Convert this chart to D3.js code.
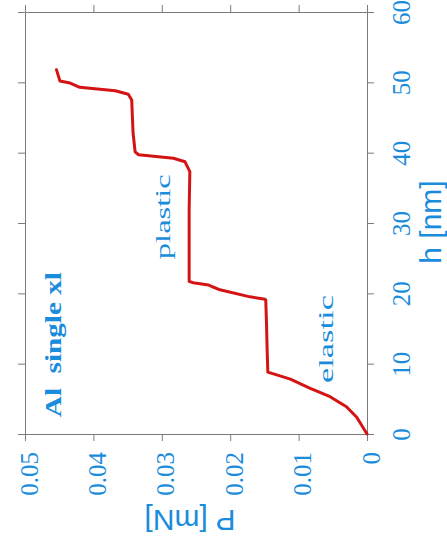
<!DOCTYPE html>
<html>
<head>
<meta charset="utf-8">
<script src="https://cdn.jsdelivr.net/npm/d3@7"></script>
<style>
body { margin: 0; background: white; }
.serif { font-family: 'Liberation Serif', Tinos, 'Times New Roman', Times, serif; }
.sans { font-family: 'Liberation Sans', Arimo, Arial, Helvetica, sans-serif; }
</style>
</head>
<body>
<div id="chart"></div>
<script>
// load-displacement curve, drawn rotated (h runs up the right side, P runs leftward along the bottom)
let depth = [0, 2.37, 3.88, 5.3, 6.5, 7.8, 8.8, 12, 16, 19.05, 19.15, 19.5, 20.5, 20.9, 21.2, 21.5, 21.7, 26, 32, 37.3, 38.7, 39.2, 39.7, 40.1, 42.8, 47.5, 48.3, 48.8, 49.3, 49.9, 50.2, 51.8]
let load = [0, 0.0015, 0.0030, 0.0054, 0.0083, 0.0112, 0.0145, 0.0146, 0.0147, 0.0148, 0.0149, 0.0171, 0.0215, 0.0225, 0.0232, 0.0254, 0.0260, 0.0260, 0.0260, 0.0259, 0.0266, 0.0283, 0.0334, 0.0339, 0.0342, 0.0344, 0.0349, 0.0368, 0.0420, 0.0434, 0.0449, 0.0454]

let hTicks = [0, 10, 20, 30, 40, 50, 60]
let hTickLabels = ['0', '10', '20', '30', '40', '50', '60']
let pTicks = [0, 0.01, 0.02, 0.03, 0.04, 0.05]
let pTickLabels = ['0', '0.01', '0.02', '0.03', '0.04', '0.05']

let notes = [
    { text: 'plastic', h: 30.9, p: 0.0288 },
    { text: 'elastic', h: 13.5, p: 0.0050 },
    { text: 'Al  single xl', h: 12.7, p: 0.0447 }
]

let width = 447
let height = 551
let blue = '#1a8cdc'
let axisGray = '#7a7a7a'

let svg = d3.select('#chart').append('svg')
    .attr('width', width)
    .attr('height', height)

let y = d3.scaleLinear()
    .domain([0, 60])
    .range([434, 12])
let x = d3.scaleLinear()
    .domain([0, 0.05])
    .range([367, 25])

function styleAxis(g) {
    g.attr('font-family', null)
    g.selectAll('path.domain').attr('stroke', axisGray)
    g.selectAll('.tick line').attr('stroke', axisGray)
}

// right: h ticks with labels
let right = svg.append('g')
    .attr('transform', 'translate(367,0)')
    .call(d3.axisRight(y)
        .tickValues(hTicks)
        .tickSize(7)
        .tickSizeOuter(0)
        .tickFormat((d, i) => hTickLabels[i])
    )
right.call(styleAxis)
right.selectAll('text')
    .attr('class', 'serif')
    .attr('x', 0)
    .attr('dy', 0)
    .attr('text-anchor', 'middle')
    .attr('transform', 'translate(43,0) rotate(-90)')
    .attr('fill', blue)
    .attr('font-size', 25)

// bottom: P ticks with labels
let bottom = svg.append('g')
    .attr('transform', 'translate(0,434)')
    .call(d3.axisBottom(x)
        .tickValues(pTicks)
        .tickSize(7)
        .tickSizeOuter(0)
        .tickFormat((d, i) => pTickLabels[i])
    )
bottom.call(styleAxis)
bottom.selectAll('text')
    .attr('class', 'serif')
    .attr('y', 0)
    .attr('dy', 0)
    .attr('text-anchor', 'end')
    .attr('transform', 'translate(12,18) rotate(-90)')
    .attr('fill', blue)
    .attr('font-size', 25)

// mirror axes, ticks only
svg.append('g')
    .attr('transform', 'translate(25,0)')
    .call(d3.axisLeft(y).tickValues(hTicks).tickSize(7).tickSizeOuter(0).tickFormat(''))
    .call(styleAxis)
svg.append('g')
    .attr('transform', 'translate(0,12)')
    .call(d3.axisTop(x).tickValues(pTicks).tickSize(7).tickSizeOuter(0).tickFormat(''))
    .call(styleAxis)

// axis titles
svg.append('text')
    .attr('class', 'sans')
    .attr('transform', 'translate(441,222) rotate(-90)')
    .attr('text-anchor', 'middle')
    .attr('font-size', 30)
    .attr('fill', blue)
    .text('h [nm]')
svg.append('text')
    .attr('class', 'sans')
    .attr('transform', 'translate(190,510) rotate(180)')
    .attr('text-anchor', 'middle')
    .attr('font-size', 30)
    .attr('fill', blue)
    .text('P [mN]')

// the curve
let points = depth.map((h, i) => ({ h, p: load[i] }))
let line = d3.line()
    .x(d => x(d.p))
    .y(d => y(d.h))
svg.append('path')
    .datum(points)
    .attr('d', line)
    .attr('fill', 'none')
    .attr('stroke', '#d41414')
    .attr('stroke-width', 3)
    .attr('stroke-linejoin', 'round')
    .attr('stroke-linecap', 'round')

// annotations (text is stretched along its reading direction in the original)
let noteStyle = {
    'plastic': { size: 22, weight: 'normal', len: 85 },
    'elastic': { size: 22, weight: 'normal', len: 88 },
    'Al  single xl': { size: 23, weight: 'bold', len: 145 }
}
svg.selectAll('text.note')
    .data(notes)
    .enter()
    .append('text')
        .attr('class', 'note serif')
        .attr('transform', d => `translate(${x(d.p)},${y(d.h)}) rotate(-90)`)
        .attr('text-anchor', 'middle')
        .attr('font-size', d => noteStyle[d.text].size)
        .attr('font-weight', d => noteStyle[d.text].weight)
        .attr('textLength', d => noteStyle[d.text].len)
        .attr('lengthAdjust', 'spacingAndGlyphs')
        .style('white-space', 'pre')
        .attr('fill', blue)
        .text(d => d.text)
</script>
</body>
</html>
